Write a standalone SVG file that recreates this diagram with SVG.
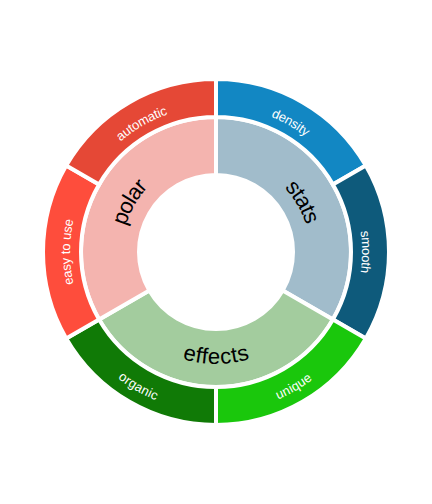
<svg xmlns="http://www.w3.org/2000/svg" xmlns:xlink="http://www.w3.org/1999/xlink" width="432" height="504" viewBox="0 0 432 504">
<style>
.seg{stroke:#fff;stroke-width:4;stroke-linejoin:miter}
.outer{font-family:"Liberation Sans",Arial,sans-serif;font-size:13px;fill:#fff;dominant-baseline:central}
.inner{font-family:"Liberation Sans",Arial,sans-serif;font-size:22px;fill:#000;dominant-baseline:central}
</style>
<defs>
<path id="p-density" d="M216,101 A151,151 0 0 1 346.769,176.5"/>
<path id="p-smooth" d="M346.769,176.5 A151,151 0 0 1 346.769,327.5"/>
<path id="p-unique" d="M216,407 A155,155 0 0 0 350.234,329.5"/>
<path id="p-organic" d="M81.766,329.5 A155,155 0 0 0 216,407"/>
<path id="p-easy" d="M85.231,327.5 A151,151 0 0 1 85.231,176.5"/>
<path id="p-automatic" d="M85.231,176.5 A151,151 0 0 1 216,101"/>
<path id="p-stats" d="M216,150 A102,102 0 0 1 304.335,303"/>
<path id="p-polar" d="M127.665,303 A102,102 0 0 1 216,150"/>
<path id="p-effects" d="M125.933,304 A104,104 0 0 0 306.067,304"/>
</defs>
<rect width="432" height="504" fill="#fff"/>
<g id="stats">
<path class="seg" fill="#a1bccb" d="M216,117 A135,135 0 0 1 332.913,319.5 L282.684,290.5 A77,77 0 0 0 216,175 Z"/>
<text class="inner"><textPath xlink:href="#p-stats" href="#p-stats" startOffset="50%" text-anchor="middle">stats</textPath></text>
</g>
<g id="effects">
<path class="seg" fill="#a3cc9e" d="M332.913,319.5 A135,135 0 0 1 99.087,319.5 L149.316,290.5 A77,77 0 0 0 282.684,290.5 Z"/>
<text class="inner"><textPath xlink:href="#p-effects" href="#p-effects" startOffset="50%" text-anchor="middle">effects</textPath></text>
</g>
<g id="polar">
<path class="seg" fill="#f4b4af" d="M99.087,319.5 A135,135 0 0 1 216,117 L216,175 A77,77 0 0 0 149.316,290.5 Z"/>
<text class="inner"><textPath xlink:href="#p-polar" href="#p-polar" startOffset="50%" text-anchor="middle">polar</textPath></text>
</g>
<g id="density">
<path class="seg" fill="#1287c3" d="M216,79 A173,173 0 0 1 365.822,165.5 L332.913,184.5 A135,135 0 0 0 216,117 Z"/>
<text class="outer"><textPath xlink:href="#p-density" href="#p-density" startOffset="50%" text-anchor="middle">density</textPath></text>
</g>
<g id="smooth">
<path class="seg" fill="#0e5a7b" d="M365.822,165.5 A173,173 0 0 1 365.822,338.5 L332.913,319.5 A135,135 0 0 0 332.913,184.5 Z"/>
<text class="outer"><textPath xlink:href="#p-smooth" href="#p-smooth" startOffset="50%" text-anchor="middle">smooth</textPath></text>
</g>
<g id="unique">
<path class="seg" fill="#1ac70c" d="M365.822,338.5 A173,173 0 0 1 216,425 L216,387 A135,135 0 0 0 332.913,319.5 Z"/>
<text class="outer"><textPath xlink:href="#p-unique" href="#p-unique" startOffset="50%" text-anchor="middle">unique</textPath></text>
</g>
<g id="organic">
<path class="seg" fill="#107a06" d="M216,425 A173,173 0 0 1 66.178,338.5 L99.087,319.5 A135,135 0 0 0 216,387 Z"/>
<text class="outer"><textPath xlink:href="#p-organic" href="#p-organic" startOffset="50%" text-anchor="middle">organic</textPath></text>
</g>
<g id="easy-to-use">
<path class="seg" fill="#fe4d3c" d="M66.178,338.5 A173,173 0 0 1 66.178,165.5 L99.087,184.5 A135,135 0 0 0 99.087,319.5 Z"/>
<text class="outer"><textPath xlink:href="#p-easy" href="#p-easy" startOffset="50%" text-anchor="middle">easy to use</textPath></text>
</g>
<g id="automatic">
<path class="seg" fill="#e54836" d="M66.178,165.5 A173,173 0 0 1 216,79 L216,117 A135,135 0 0 0 99.087,184.5 Z"/>
<text class="outer"><textPath xlink:href="#p-automatic" href="#p-automatic" startOffset="50%" text-anchor="middle">automatic</textPath></text>
</g>
<g id="connectors"/>
</svg>
